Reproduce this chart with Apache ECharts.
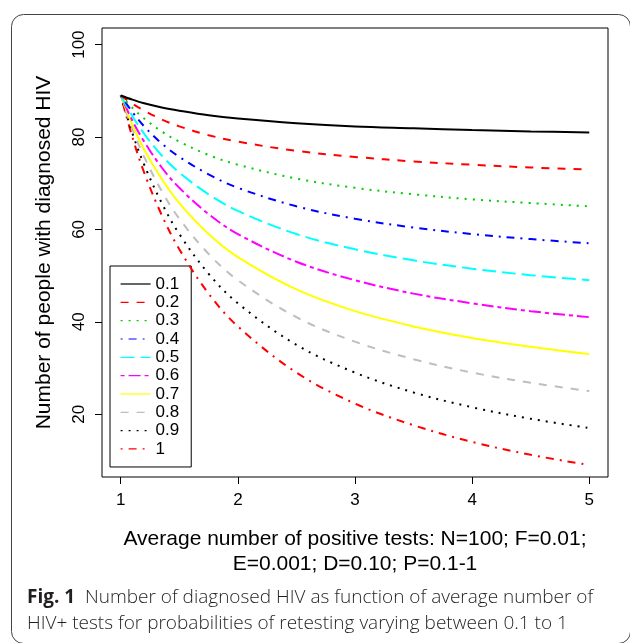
<!DOCTYPE html>
<html><head><meta charset="utf-8">
<script src="https://cdn.jsdelivr.net/npm/echarts@6/dist/echarts.min.js"></script>
<style>html,body{margin:0;padding:0;background:#fff}#c{width:630px;height:643px}</style>
</head><body><div id="c"></div>
<script>
const xs = [1, 1.1, 1.2, 1.35, 1.5, 1.75, 2, 2.5, 3, 3.5, 4, 4.5, 5];
const probs = ['0.1','0.2','0.3','0.4','0.5','0.6','0.7','0.8','0.9','1'];
const p01 = [89, 88.1, 87.3, 86.4, 85.7, 84.7, 84.0, 83.0, 82.3, 81.9, 81.5, 81.2, 81.0];
const p02 = [89, 87.2, 85.7, 83.8, 82.3, 80.4, 79.0, 77.0, 75.7, 74.7, 74.0, 73.4, 73.0];
const p03 = [89, 86.3, 84.0, 81.2, 79.0, 76.1, 74.0, 71.0, 69.0, 67.6, 66.5, 65.7, 65.0];
const p04 = [89, 85.4, 82.3, 78.6, 75.7, 71.9, 69.0, 65.0, 62.3, 60.4, 59.0, 57.9, 57.0];
const p05 = [89, 84.5, 80.7, 76.0, 72.3, 67.6, 64.0, 59.0, 55.7, 53.3, 51.5, 50.1, 49.0];
const p06 = [89, 83.5, 79.0, 73.4, 69.0, 63.3, 59.0, 53.0, 49.0, 46.1, 44.0, 42.3, 41.0];
const p07 = [89, 82.6, 77.3, 70.9, 65.7, 59.0, 54.0, 47.0, 42.3, 39.0, 36.5, 34.6, 33.0];
const p08 = [89, 81.7, 75.7, 68.3, 62.3, 54.7, 49.0, 41.0, 35.7, 31.9, 29.0, 26.8, 25.0];
const p09 = [89, 80.8, 74.0, 65.7, 59.0, 50.4, 44.0, 35.0, 29.0, 24.7, 21.5, 19.0, 17.0];
const p10 = [89, 79.9, 72.3, 63.1, 55.7, 46.1, 39.0, 29.0, 22.3, 17.6, 14.0, 11.2, 9.0];
const seriesValues = [p01, p02, p03, p04, p05, p06, p07, p08, p09, p10];
const xTicks = [1, 2, 3, 4, 5];
const yTicks = [20, 40, 60, 80, 100];

const colors = ['#000000','#FF0000','#00CD00','#0000FF','#00FFFF','#FF00FF','#FFFF00','#BEBEBE','#000000','#FF0000'];
const dashes = ['solid',[8,8],[2,6],[2,6,8,6],[14,6],[4,4,12,4],'solid',[8,8],[2,6],[2,6,8,6]];
const font = 'Liberation Sans, Arial, sans-serif';

const series = seriesValues.map((vals, i) => ({
  name: probs[i],
  type: 'line',
  data: xs.map((x, j) => [x, vals[j]]),
  smooth: 0.35,
  showSymbol: false,
  symbol: 'none',
  lineStyle: {color: colors[i], width: 2, type: dashes[i], cap: 'butt'},
  itemStyle: {color: colors[i]},
  z: 20 - i
}));

const chart = echarts.init(document.getElementById('c'), null, {renderer: 'canvas'});
chart.setOption({
  animation: false,
  backgroundColor: '#fff',
  grid: {left: 102, right: 22, top: 28, bottom: 166, show: true, borderColor: '#000', borderWidth: 1, backgroundColor: 'transparent'},
  xAxis: {
    type: 'value', min: 0.84, max: 5.16,
    axisLine: {show: false},
    splitLine: {show: false},
    axisTick: {show: true, customValues: xTicks, length: 7, lineStyle: {color: '#000'}},
    axisLabel: {customValues: xTicks, fontSize: 17, fontFamily: font, color: '#000', margin: 15},
    name: 'Average number of positive tests: N=100; F=0.01;\nE=0.001; D=0.10; P=0.1-1',
    nameLocation: 'middle', nameGap: 50,
    nameTextStyle: {fontSize: 21, fontFamily: font, color: '#000', lineHeight: 24.5}
  },
  yAxis: {
    type: 'value', min: 6.4, max: 103.6,
    axisLine: {show: false},
    splitLine: {show: false},
    axisTick: {show: true, customValues: yTicks, length: 7, lineStyle: {color: '#000'}},
    axisLabel: {customValues: yTicks, fontSize: 17, fontFamily: font, color: '#000', margin: 14, rotate: 90},
    name: 'Number of people with diagnosed HIV',
    nameLocation: 'middle', nameGap: 47,
    nameTextStyle: {fontSize: 21, fontFamily: font, color: '#000'}
  },
  legend: {
    orient: 'vertical', left: 110, top: 266,
    padding: [9, 12, 9, 10],
    borderColor: '#000', borderWidth: 1, backgroundColor: '#fff',
    itemWidth: 30, itemHeight: 18, itemGap: 0.33,
    itemStyle: {opacity: 0},
    lineStyle: {width: 1.2},
    textStyle: {fontSize: 17, fontFamily: font, color: '#000', lineHeight: 18},
    data: probs
  },
  title: [{
    left: 22, top: 580,
    text: '{b|Fig. 1}  Number of diagnosed HIV as function of average number of\nHIV+ tests for probabilities of retesting varying between 0.1 to 1',
    textStyle: {fontSize: 19, fontFamily: 'Open Sans, sans-serif', fontWeight: 300, color: '#231f20', lineHeight: 26,
      rich: {b: {fontSize: 19, fontWeight: 'bold', fontFamily: 'Open Sans, sans-serif', color: '#231f20'}}}
  }],
  graphic: [{
    type: 'rect', left: 9, top: 12, z: 0,
    shape: {x: 0, y: 0, width: 619, height: 629, r: 12},
    style: {fill: 'none', stroke: '#444', lineWidth: 1}
  }],
  series: series
});
</script></body></html>
